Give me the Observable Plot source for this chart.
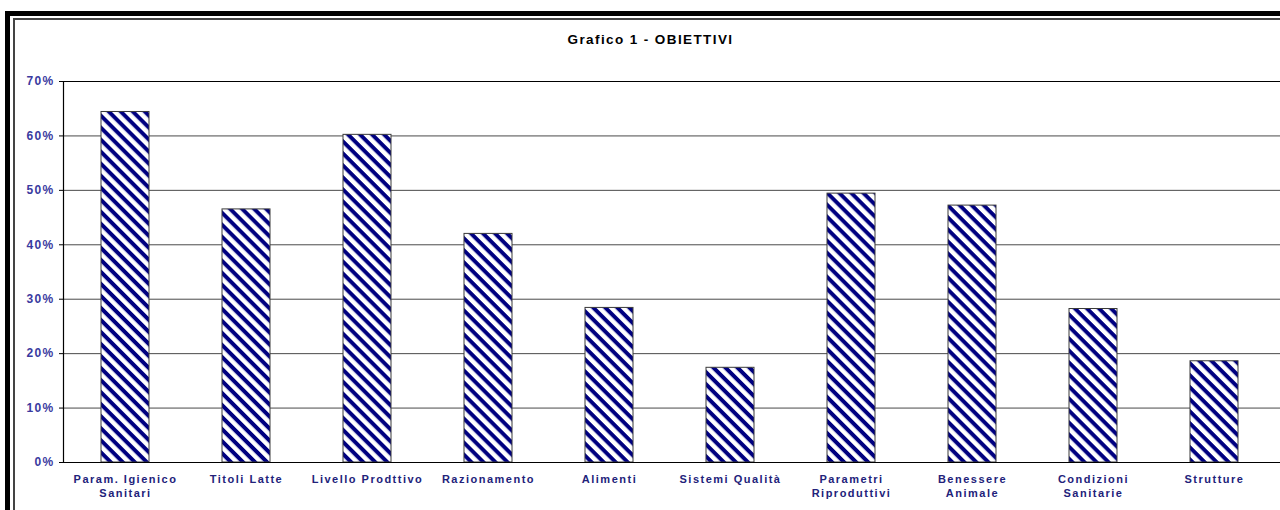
<!DOCTYPE html>
<html>
<head>
<meta charset="utf-8">
<script src="https://cdn.jsdelivr.net/npm/d3@7"></script>
<script src="https://cdn.jsdelivr.net/npm/@observablehq/plot@0.6"></script>
<style>
  html, body { margin: 0; padding: 0; background: white; }
  #wrap { position: relative; width: 1280px; height: 510px; overflow: hidden; background: white; font-family: "Liberation Sans", Arial, sans-serif; }
  #outer { position: absolute; left: 5px; top: 11px; width: 1400px; height: 700px; border-left: 5px solid #000; border-top: 5px solid #000; }
  #inner { position: absolute; left: 13px; top: 18px; width: 1400px; height: 700px; border-left: 2px solid #444; border-top: 2px solid #444; }
  #title { position: absolute; left: 0; top: 32px; width: 1301px; text-align: center; font-weight: bold; font-size: 13.5px; letter-spacing: 1.4px; color: #000; }
  #chart { position: absolute; left: 0; top: 0; }
</style>
</head>
<body>
<div id="wrap">
  <div id="outer"></div>
  <div id="inner"></div>
  <div id="title">Grafico 1 - OBIETTIVI</div>
  <div id="chart"></div>
</div>
<script>
const categories = [
  "Param. Igienico\nSanitari",
  "Titoli Latte",
  "Livello Prodttivo",
  "Razionamento",
  "Alimenti",
  "Sistemi Qualità",
  "Parametri\nRiproduttivi",
  "Benessere\nAnimale",
  "Condizioni\nSanitarie",
  "Strutture"
];
const values = [0.644, 0.465, 0.602, 0.420, 0.284, 0.174, 0.494, 0.472, 0.282, 0.186];
const yTicks = [0, 0.1, 0.2, 0.3, 0.4, 0.5, 0.6, 0.7];

const data = categories.map((c, i) => ({cat: c, value: values[i]}));

const svg = Plot.plot({
  width: 1280,
  height: 510,
  marginTop: 81,
  marginBottom: 48,
  marginLeft: 63,
  marginRight: 0,
  style: {background: "transparent", fontFamily: "'Liberation Sans', Arial, sans-serif", overflow: "visible"},
  x: {domain: categories, range: [64, 1276], paddingInner: 0.6, paddingOuter: 0.3, axis: null},
  y: {domain: [0, 0.7], axis: null},
  marks: [
    Plot.ruleY(yTicks.filter(d => d > 0 && d < 0.7), {y: d => d, stroke: "#4a4a4a", strokeWidth: 1}),
    Plot.ruleY([0.7], {y: d => d, stroke: "#000", strokeWidth: 1}),
    Plot.barY(data, {x: "cat", y: "value", fill: "white", stroke: "#3a3a3a", strokeWidth: 1}),
    Plot.ruleY([0], {y: d => d, stroke: "#000", strokeWidth: 1.2}),
    Plot.axisY(yTicks, {
      tickFormat: d3.format(".0%"),
      tickSize: 4,
      tickPadding: 5,
      stroke: "#000",
      fill: "#3a3aa0",
      fontWeight: "bold",
      fontSize: 12,
      label: null
    }),
    Plot.axisX({
      tickSize: 0,
      tickPadding: 11,
      fill: "#22227a",
      fontWeight: "bold",
      fontSize: 11,
      lineHeight: 1.25,
      label: null
    })
  ]
});

// left axis line
const s = d3.select(svg);
s.append("line").attr("x1", 63.5).attr("x2", 63.5).attr("y1", 81).attr("y2", 462).attr("stroke", "#000").attr("stroke-width", 1.2);

// hatch pattern
const defs = s.insert("defs", ":first-child");
const pat = defs.append("pattern")
  .attr("id", "hatch")
  .attr("patternUnits", "userSpaceOnUse")
  .attr("width", 8.5).attr("height", 8.5)
  .attr("patternTransform", "rotate(45)");
pat.append("rect").attr("width", 8.5).attr("height", 8.5).attr("fill", "white");
pat.append("rect").attr("width", 8.5).attr("height", 4).attr("fill", "#000080");
s.selectAll('g[aria-label="bar"]').attr("fill", "url(#hatch)");
s.selectAll('g[aria-label="bar"] rect').attr("fill", "url(#hatch)");
s.selectAll('g[aria-label="x-axis tick label"] text').style("letter-spacing", "1.5px");
s.selectAll('g[aria-label="y-axis tick label"] text').style("letter-spacing", "1.3px");

document.getElementById("chart").appendChild(svg);
</script>
</body>
</html>
